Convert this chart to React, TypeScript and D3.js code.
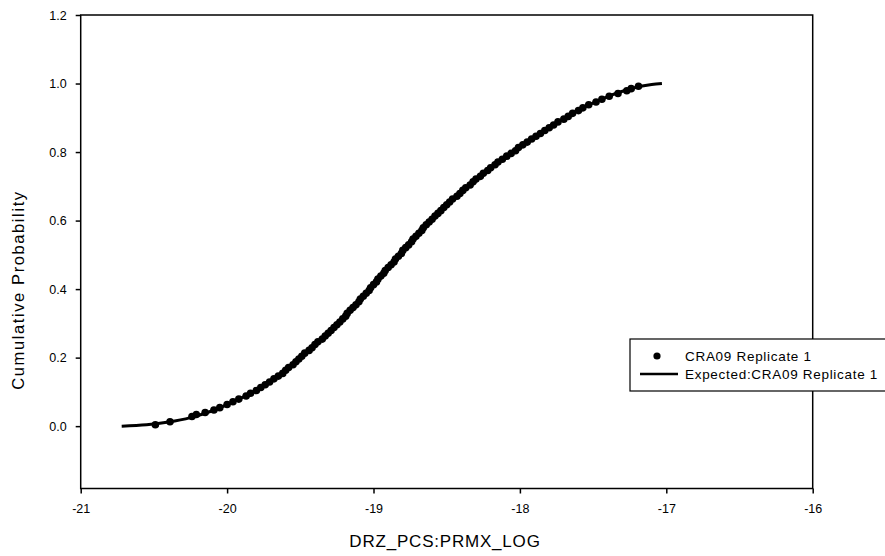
import React, { useEffect, useRef } from "react";
import * as d3 from "d3";

const xTicks = [-21, -20, -19, -18, -17, -16];
const yTicks = [0.0, 0.2, 0.4, 0.6, 0.8, 1.0, 1.2];

// Expected (fitted) cumulative curve
const expectedX = [-20.72, -20.55, -20.4, -20.25, -20.1, -19.95, -19.8, -19.65, -19.5, -19.35, -19.2, -19.05, -18.9, -18.75, -18.6, -18.45, -18.3, -18.15, -18.0, -17.85, -17.7, -17.55, -17.4, -17.25, -17.1, -17.03];
const expectedP = [0.0, 0.004, 0.012, 0.025, 0.045, 0.072, 0.105, 0.145, 0.2, 0.255, 0.318, 0.388, 0.462, 0.535, 0.605, 0.665, 0.72, 0.77, 0.815, 0.858, 0.897, 0.933, 0.962, 0.984, 0.997, 1.0];

// Observed sample points
const sampleX = [
  -20.49, -20.39, -20.24, -20.21, -20.15, -20.09, -20.05, -20.0, -19.96, -19.92,
  -19.87, -19.84, -19.8, -19.77, -19.74, -19.71, -19.68, -19.65, -19.62, -19.6,
  -19.58, -19.55, -19.53, -19.51, -19.49, -19.47, -19.44, -19.42, -19.4, -19.38,
  -19.35, -19.33, -19.31, -19.29, -19.27, -19.25, -19.23, -19.21, -19.19, -19.18,
  -19.16, -19.14, -19.12, -19.1, -19.09, -19.07, -19.05, -19.03, -19.02, -19.0,
  -18.98, -18.97, -18.95, -18.93, -18.92, -18.9, -18.88, -18.86, -18.85, -18.83,
  -18.81, -18.8, -18.78, -18.76, -18.74, -18.73, -18.71, -18.69, -18.67, -18.66,
  -18.64, -18.62, -18.6, -18.58, -18.56, -18.54, -18.52, -18.5, -18.48, -18.46,
  -18.43, -18.41, -18.39, -18.37, -18.34, -18.32, -18.3, -18.27, -18.25, -18.22,
  -18.2, -18.17, -18.15, -18.12, -18.09, -18.06, -18.03, -18.01, -17.98, -17.95,
  -17.92, -17.89, -17.86, -17.83, -17.8, -17.77, -17.74, -17.7, -17.67, -17.64,
  -17.6, -17.57, -17.53, -17.48, -17.44, -17.39, -17.33, -17.27, -17.24, -17.19
];
const sampleP = [
  0.004, 0.013, 0.028, 0.034, 0.04, 0.047, 0.054, 0.063, 0.071, 0.079,
  0.088, 0.096, 0.104, 0.113, 0.121, 0.129, 0.138, 0.146, 0.154, 0.163,
  0.171, 0.179, 0.188, 0.196, 0.204, 0.213, 0.221, 0.229, 0.238, 0.246,
  0.254, 0.263, 0.271, 0.279, 0.288, 0.296, 0.304, 0.313, 0.321, 0.329,
  0.338, 0.346, 0.354, 0.363, 0.371, 0.379, 0.388, 0.396, 0.404, 0.413,
  0.421, 0.429, 0.438, 0.446, 0.454, 0.463, 0.471, 0.479, 0.488, 0.496,
  0.504, 0.513, 0.521, 0.529, 0.538, 0.546, 0.554, 0.563, 0.571, 0.579,
  0.588, 0.596, 0.604, 0.613, 0.621, 0.629, 0.638, 0.646, 0.654, 0.663,
  0.671, 0.679, 0.688, 0.696, 0.704, 0.713, 0.721, 0.729, 0.738, 0.746,
  0.754, 0.763, 0.771, 0.779, 0.788, 0.796, 0.804, 0.813, 0.821, 0.829,
  0.838, 0.846, 0.854, 0.863, 0.871, 0.879, 0.888, 0.896, 0.904, 0.913,
  0.921, 0.929, 0.938, 0.946, 0.954, 0.963, 0.971, 0.979, 0.985, 0.992
];

const legendLabels = ["CRA09 Replicate 1", "Expected:CRA09 Replicate 1"];
const xTitle = "DRZ_PCS:PRMX_LOG";
const yTitle = "Cumulative Probability";

const W = 885;
const H = 556;
const FONT = "'Liberation Sans', Arial, sans-serif";

export default function App() {
  const ref = useRef<SVGSVGElement>(null);

  useEffect(() => {
    const svg = d3.select(ref.current);
    svg.selectAll("*").remove();

    const left = 80.7, right = 812.7, top = 15, bottom = 488.5;
    const x = d3.scaleLinear().domain([-21, -16]).range([left, right]);
    const y = d3.scaleLinear().domain([-0.182, 1.2]).range([bottom, top]);

    svg.append("rect").attr("width", W).attr("height", H).attr("fill", "#fff");

    // plot frame
    svg.append("rect")
      .attr("x", left).attr("y", top)
      .attr("width", right - left).attr("height", bottom - top)
      .attr("fill", "none").attr("stroke", "#000").attr("stroke-width", 1.5);

    // x axis
    const xAxis = svg.append("g").attr("transform", `translate(0,${bottom})`)
      .call(d3.axisBottom(x).tickValues(xTicks).tickSize(5).tickFormat((d: any) => String(d)));
    xAxis.select(".domain").remove();
    xAxis.selectAll("line").attr("stroke", "#000").attr("stroke-width", 1.5);
    xAxis.selectAll("text").attr("font-family", FONT).attr("font-size", 12.5).attr("fill", "#000").attr("dy", "1.3em");

    // y axis
    const yAxis = svg.append("g").attr("transform", `translate(${left},0)`)
      .call(d3.axisLeft(y).tickValues(yTicks).tickSize(5).tickFormat(d3.format(".1f")));
    yAxis.select(".domain").remove();
    yAxis.selectAll("line").attr("stroke", "#000").attr("stroke-width", 1.5);
    yAxis.selectAll("text").attr("font-family", FONT).attr("font-size", 12.5).attr("fill", "#000").attr("x", -14);

    // expected curve
    const line = d3.line<number>()
      .x((_, i) => x(expectedX[i]))
      .y((d) => y(d))
      .curve(d3.curveMonotoneX);
    svg.append("path")
      .attr("d", line(expectedP))
      .attr("fill", "none").attr("stroke", "#000").attr("stroke-width", 3);

    // sample points
    svg.append("g").selectAll("circle").data(sampleP).join("circle")
      .attr("cx", (_, i) => x(sampleX[i]))
      .attr("cy", (d) => y(d))
      .attr("r", 3.8)
      .attr("fill", "#000");

    // axis titles
    svg.append("text").attr("x", 445).attr("y", 547)
      .attr("text-anchor", "middle").attr("font-family", FONT).attr("font-size", 17)
      .attr("letter-spacing", 0.8)
      .text(xTitle);
    svg.append("text").attr("transform", `translate(24,290) rotate(-90)`)
      .attr("text-anchor", "middle").attr("font-family", FONT).attr("font-size", 16.5)
      .attr("letter-spacing", 1.6)
      .text(yTitle);

    // legend
    const lg = svg.append("g");
    lg.append("rect").attr("x", 630).attr("y", 339).attr("width", 270).attr("height", 52)
      .attr("fill", "#fff").attr("stroke", "#000").attr("stroke-width", 1.2);
    const rowY = [356, 374];
    lg.append("circle").attr("cx", 657).attr("cy", rowY[0]).attr("r", 3.6).attr("fill", "#000");
    lg.append("line").attr("x1", 640).attr("x2", 678).attr("y1", rowY[1]).attr("y2", rowY[1])
      .attr("stroke", "#000").attr("stroke-width", 2.5);
    legendLabels.forEach((t, i) => {
      lg.append("text").attr("x", 685).attr("y", rowY[i]).attr("dy", "0.35em")
        .attr("font-family", FONT).attr("font-size", 13.5).attr("letter-spacing", 0.7).text(t);
    });
  }, []);

  return (
    <svg ref={ref} width={W} height={H}
      style={{ position: "absolute", left: 0, top: 0, background: "#fff" }} />
  );
}
